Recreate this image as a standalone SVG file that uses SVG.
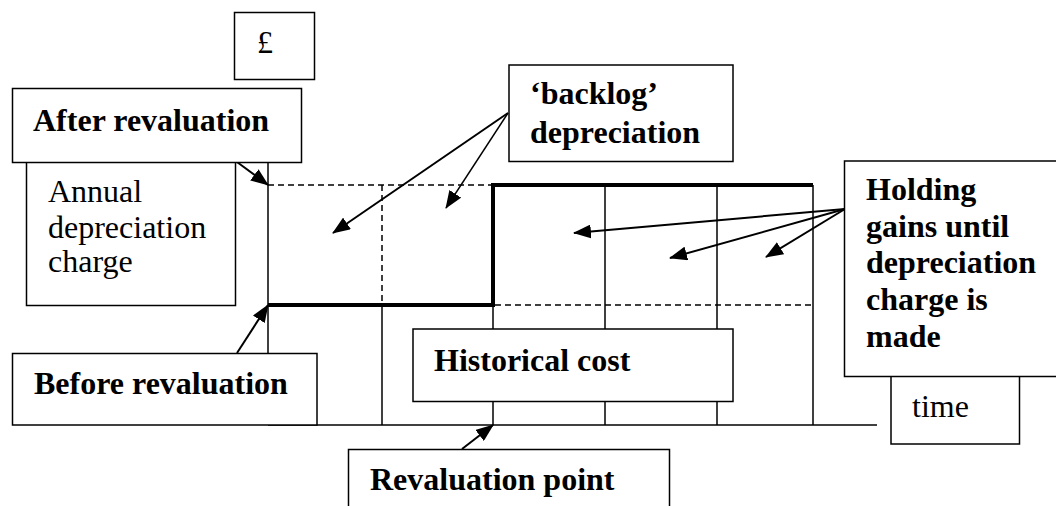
<svg xmlns="http://www.w3.org/2000/svg" width="1056" height="506" viewBox="0 0 1056 506" font-family="'Liberation Serif', 'Times New Roman', 'DejaVu Serif', serif">
  <style>
    .box { fill: #fff; stroke: #000; stroke-width: 1.5; }
    text { font-family: 'Liberation Serif', 'Times New Roman', 'DejaVu Serif', serif; font-size: 32px; fill: #000; }
    .bold { font-weight: bold; }
    .thin { stroke: #000; stroke-width: 1.5; fill: none; }
    .dash { stroke: #000; stroke-width: 1.5; fill: none; stroke-dasharray: 6 4; }
    .thick { stroke: #000; stroke-width: 4; fill: none; }
    .arrow { stroke: #000; stroke-width: 2; fill: none; marker-end: url(#head); }
  </style>
  <defs>
    <marker id="head" markerUnits="userSpaceOnUse" markerWidth="18" markerHeight="14" refX="17" refY="7" orient="auto">
      <path d="M0,0 L18,7 L0,14 z" fill="#000"/>
    </marker>
  </defs>
  <rect width="1056" height="506" fill="#fff"/>

  <!-- chart: axes, grid and charge levels -->
  <g id="chart">
    <line class="thin" x1="268" y1="162" x2="268" y2="425"/>
    <line class="thin" x1="268" y1="425" x2="877" y2="425"/>
    <line class="dash" x1="268" y1="185" x2="492" y2="185"/>
    <line class="dash" x1="382" y1="185" x2="382" y2="305"/>
    <line class="thin" x1="382" y1="305" x2="382" y2="425"/>
    <line class="thin" x1="493" y1="305" x2="493" y2="425"/>
    <line class="thin" x1="605" y1="185" x2="605" y2="425"/>
    <line class="thin" x1="717" y1="185" x2="717" y2="425"/>
    <line class="thin" x1="813" y1="185" x2="813" y2="425"/>
    <line class="dash" x1="495" y1="305" x2="811" y2="305"/>
    <polyline class="thick" points="268,305 493,305 493,185 813,185"/>
  </g>

  <!-- callout arrows -->
  <g id="connectors">
    <line class="arrow" x1="237" y1="162" x2="268" y2="185"/>
    <line class="arrow" x1="508" y1="113" x2="333" y2="233"/>
    <line class="arrow" x1="508" y1="113" x2="446" y2="208" style="stroke-width:1.4"/>
    <line class="arrow" x1="237" y1="353" x2="268" y2="305"/>
    <line class="arrow" x1="845" y1="209" x2="574" y2="233"/>
    <line class="arrow" x1="845" y1="209" x2="670" y2="258"/>
    <line class="arrow" x1="845" y1="209" x2="766" y2="257"/>
    <line class="arrow" x1="462" y1="449" x2="493" y2="425"/>
  </g>

  <g id="pound">
    <rect class="box" x="234.5" y="12.5" width="80" height="67"/>
    <text x="257" y="53">£</text>
  </g>

  <g id="annual-charge">
    <rect class="box" x="26.5" y="150" width="209" height="155.5"/>
    <text x="48" y="201.5">Annual</text>
    <text x="48" y="238">depreciation</text>
    <text x="48" y="272">charge</text>
  </g>

  <g id="after-revaluation">
    <rect class="box" x="12.5" y="88.5" width="289" height="74"/>
    <text class="bold" x="33" y="131">After revaluation</text>
  </g>

  <g id="backlog">
    <rect class="box" x="509" y="65" width="224" height="96.5"/>
    <text class="bold" x="530" y="104">‘backlog’</text>
    <text class="bold" x="530" y="142.5">depreciation</text>
  </g>

  <g id="before-revaluation">
    <rect class="box" x="12.5" y="353.5" width="304.5" height="71.5"/>
    <text class="bold" x="34" y="394">Before revaluation</text>
  </g>

  <g id="historical-cost">
    <rect class="box" x="413" y="329" width="320" height="72.5"/>
    <text class="bold" x="434" y="371">Historical cost</text>
  </g>

  <g id="revaluation-point">
    <rect class="box" x="348.5" y="449.5" width="321" height="70"/>
    <text class="bold" x="370" y="490">Revaluation point</text>
  </g>

  <g id="time">
    <rect class="box" x="891" y="360" width="128.5" height="84"/>
    <text x="912" y="417">time</text>
  </g>

  <g id="holding-gains">
    <rect class="box" x="844.5" y="161" width="220" height="215.5"/>
    <text class="bold" x="866" y="200">Holding</text>
    <text class="bold" x="866" y="236.5">gains until</text>
    <text class="bold" x="866" y="273">depreciation</text>
    <text class="bold" x="866" y="310">charge is</text>
    <text class="bold" x="866" y="346.5">made</text>
  </g>
</svg>
